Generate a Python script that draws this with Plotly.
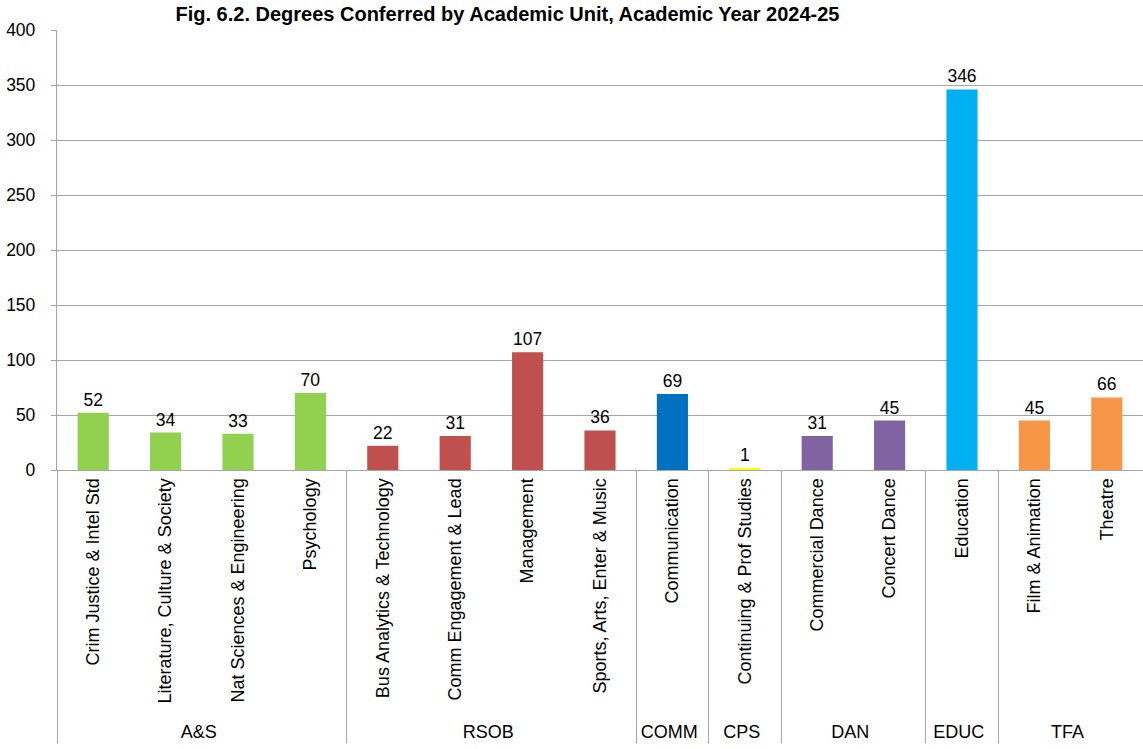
import plotly.graph_objects as go

# academic units (outer level) and programs (inner level)
units = ['A&S', 'A&S', 'A&S', 'A&S',
         'RSOB', 'RSOB', 'RSOB', 'RSOB',
         'COMM', 'CPS', 'DAN', 'DAN', 'EDUC', 'TFA', 'TFA']
programs = ['Crim Justice & Intel Std', 'Literature, Culture & Society',
            'Nat Sciences & Engineering', 'Psychology',
            'Bus Analytics & Technology', 'Comm Engagement & Lead',
            'Management', 'Sports, Arts, Enter & Music',
            'Communication', 'Continuing & Prof Studies',
            'Commercial Dance', 'Concert Dance', 'Education',
            'Film & Animation', 'Theatre']
degrees = [52, 34, 33, 70, 22, 31, 107, 36, 69, 1, 31, 45, 346, 45, 66]

unit_colors = {'A&S': '#92D050', 'RSOB': '#C0504D', 'COMM': '#0070C0',
               'CPS': '#FFFF00', 'DAN': '#8064A2', 'EDUC': '#00B0F0',
               'TFA': '#F79646'}
colors = [unit_colors[u] for u in units]

FONT = 'Liberation Sans, Arial, sans-serif'

fig = go.Figure(go.Bar(
    x=[units, programs],
    y=degrees,
    marker=dict(color=colors, line=dict(width=0)),
    width=0.43,
    text=degrees,
    textposition='outside',
    textfont=dict(size=17.5, color='black', family=FONT),
    cliponaxis=False,
))

fig.update_layout(
    title=dict(text='<b>Fig. 6.2. Degrees Conferred by Academic Unit, Academic Year 2024-25</b>',
               x=0.444, xanchor='center', y=0.99, yanchor='top',
               font=dict(size=20, family=FONT, color='black')),
    width=1143, height=749,
    margin=dict(l=57, r=0, t=30, b=279),
    plot_bgcolor='white', paper_bgcolor='white',
    showlegend=False,
    font=dict(family=FONT, color='black'),
)

fig.update_yaxes(range=[0, 400], dtick=50, showgrid=True, gridcolor='#a6a6a6',
                 gridwidth=1.3, showline=True, linecolor='#a6a6a6', linewidth=1.3,
                 ticks='outside', ticklen=5, tickcolor='#a6a6a6',
                 ticklabelstandoff=12,
                 tickfont=dict(size=17.5), zeroline=False, automargin=False)
fig.update_xaxes(type='multicategory', tickangle=-90, tickfont=dict(size=18),
                 showline=True, linecolor='#a6a6a6', linewidth=1.3,
                 showdividers=True, dividercolor='#a6a6a6', dividerwidth=1.3,
                 ticks='', automargin=False)

# drop the default 8px page margin so the figure sits at the window origin
fig.write_html('out.html', config={'displayModeBar': False},
               post_script="document.body.style.margin='0';")
